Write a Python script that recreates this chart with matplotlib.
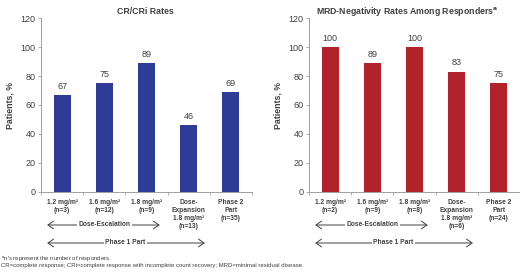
import matplotlib
matplotlib.use("Agg")
import matplotlib.pyplot as plt
from matplotlib.transforms import blended_transform_factory

plt.rcParams['font.family'] = ['Liberation Sans', 'DejaVu Sans']

left_cats = ["1.2 mg/m²\n(n=3)", "1.6 mg/m²\n(n=12)", "1.8 mg/m²\n(n=9)",
             "Dose-\nExpansion\n1.8 mg/m²\n(n=13)", "Phase 2\nPart\n(n=35)"]
left_vals = [67, 75, 89, 46, 69]
right_cats = ["1.2 mg/m²\n(n=2)", "1.6 mg/m²\n(n=9)", "1.8 mg/m²\n(n=8)",
              "Dose-\nExpansion\n1.8 mg/m²\n(n=6)", "Phase 2\nPart\n(n=24)"]
right_vals = [100, 89, 100, 83, 75]
yticks = [0, 20, 40, 60, 80, 100, 120]

W, H = 520, 277
fig = plt.figure(figsize=(W / 100, H / 100), dpi=100)

txt = '#404040'
gray = '#A0A0A0'
arrow_style = '<->,head_length=0.5,head_width=0.35'

def panel(left_px, cats, vals, color, title, title_x):
    ax = fig.add_axes([left_px / W, (H - 191.7) / H, 211 / W, 173.4 / H])
    x = list(range(len(cats)))
    ax.bar(x, vals, width=0.4, color=color)
    for xi, v in zip(x, vals):
        ax.text(xi, v + 3, f"{v}", ha='center', va='bottom', fontsize=6.5, color=txt)
    ax.set_xlim(-0.5, len(cats) - 0.5)
    ax.set_ylim(0, 120)
    ax.set_yticks(yticks)
    ax.tick_params(axis='y', labelsize=6.5, colors=gray, labelcolor=txt, length=2, width=0.6, pad=2)
    ax.set_xticks(x)
    ax.set_xticklabels(cats, fontsize=4.8, fontweight='bold', color=txt, va='top', linespacing=1.25)
    ax.tick_params(axis='x', length=0, pad=5)
    ax.set_xticks([i - 0.5 for i in range(len(cats) + 1)], minor=True)
    ax.tick_params(axis='x', which='minor', length=2, width=0.6, colors=gray)
    for s in ['top', 'right']:
        ax.spines[s].set_visible(False)
    for s in ['left', 'bottom']:
        ax.spines[s].set_color(gray)
        ax.spines[s].set_linewidth(0.7)
    fig.text(title_x / W, 1 - 11 / H, title, ha='center', va='center', fontsize=6.3,
             fontweight='bold', color=txt)
    tr = blended_transform_factory(ax.transData, fig.transFigure)
    y1 = 1 - 225 / H
    ax.annotate('', xy=(-0.42, y1), xytext=(2.38, y1), xycoords=tr, textcoords=tr,
                arrowprops=dict(arrowstyle=arrow_style, color=txt, lw=0.7, mutation_scale=8),
                annotation_clip=False)
    ax.text(1.0, y1, 'Dose-Escalation', transform=tr, ha='center', va='center', fontsize=4.8,
            fontweight='bold', color=txt,
            bbox=dict(facecolor='white', edgecolor='none', pad=1.2))
    y2 = 1 - 243 / H
    ax.annotate('', xy=(-0.42, y2), xytext=(3.45, y2), xycoords=tr, textcoords=tr,
                arrowprops=dict(arrowstyle=arrow_style, color=txt, lw=0.7, mutation_scale=8),
                annotation_clip=False)
    ax.text(1.5, y2, 'Phase 1 Part', transform=tr, ha='center', va='center', fontsize=4.8,
            fontweight='bold', color=txt,
            bbox=dict(facecolor='white', edgecolor='none', pad=1.2))
    return ax

panel(41, left_cats, left_vals, '#2E3C98', 'CR/CRi Rates', 145)
panel(309, right_cats, right_vals, '#B2222A',
      'MRD-Negativity Rates Among Responders$^{\\mathbf{a}}$', 407)

for xp in [10, 278]:
    fig.text(xp / W, 1 - 105 / H, 'Patients, %', rotation=90, ha='center', va='center',
             fontsize=6.3, fontweight='bold', color=txt)

fig.text(1 / W, 1 - 259 / H, "$^{\\mathrm{a}}$n's represent the number of responders.",
         ha='left', va='center', fontsize=4.3, color=txt)
fig.text(1 / W, 1 - 265.5 / H,
         "CR=complete response; CRi=complete response with incomplete count recovery; MRD=minimal residual disease.",
         ha='left', va='center', fontsize=4.3, color=txt)

fig.savefig('out.png', dpi=100)
